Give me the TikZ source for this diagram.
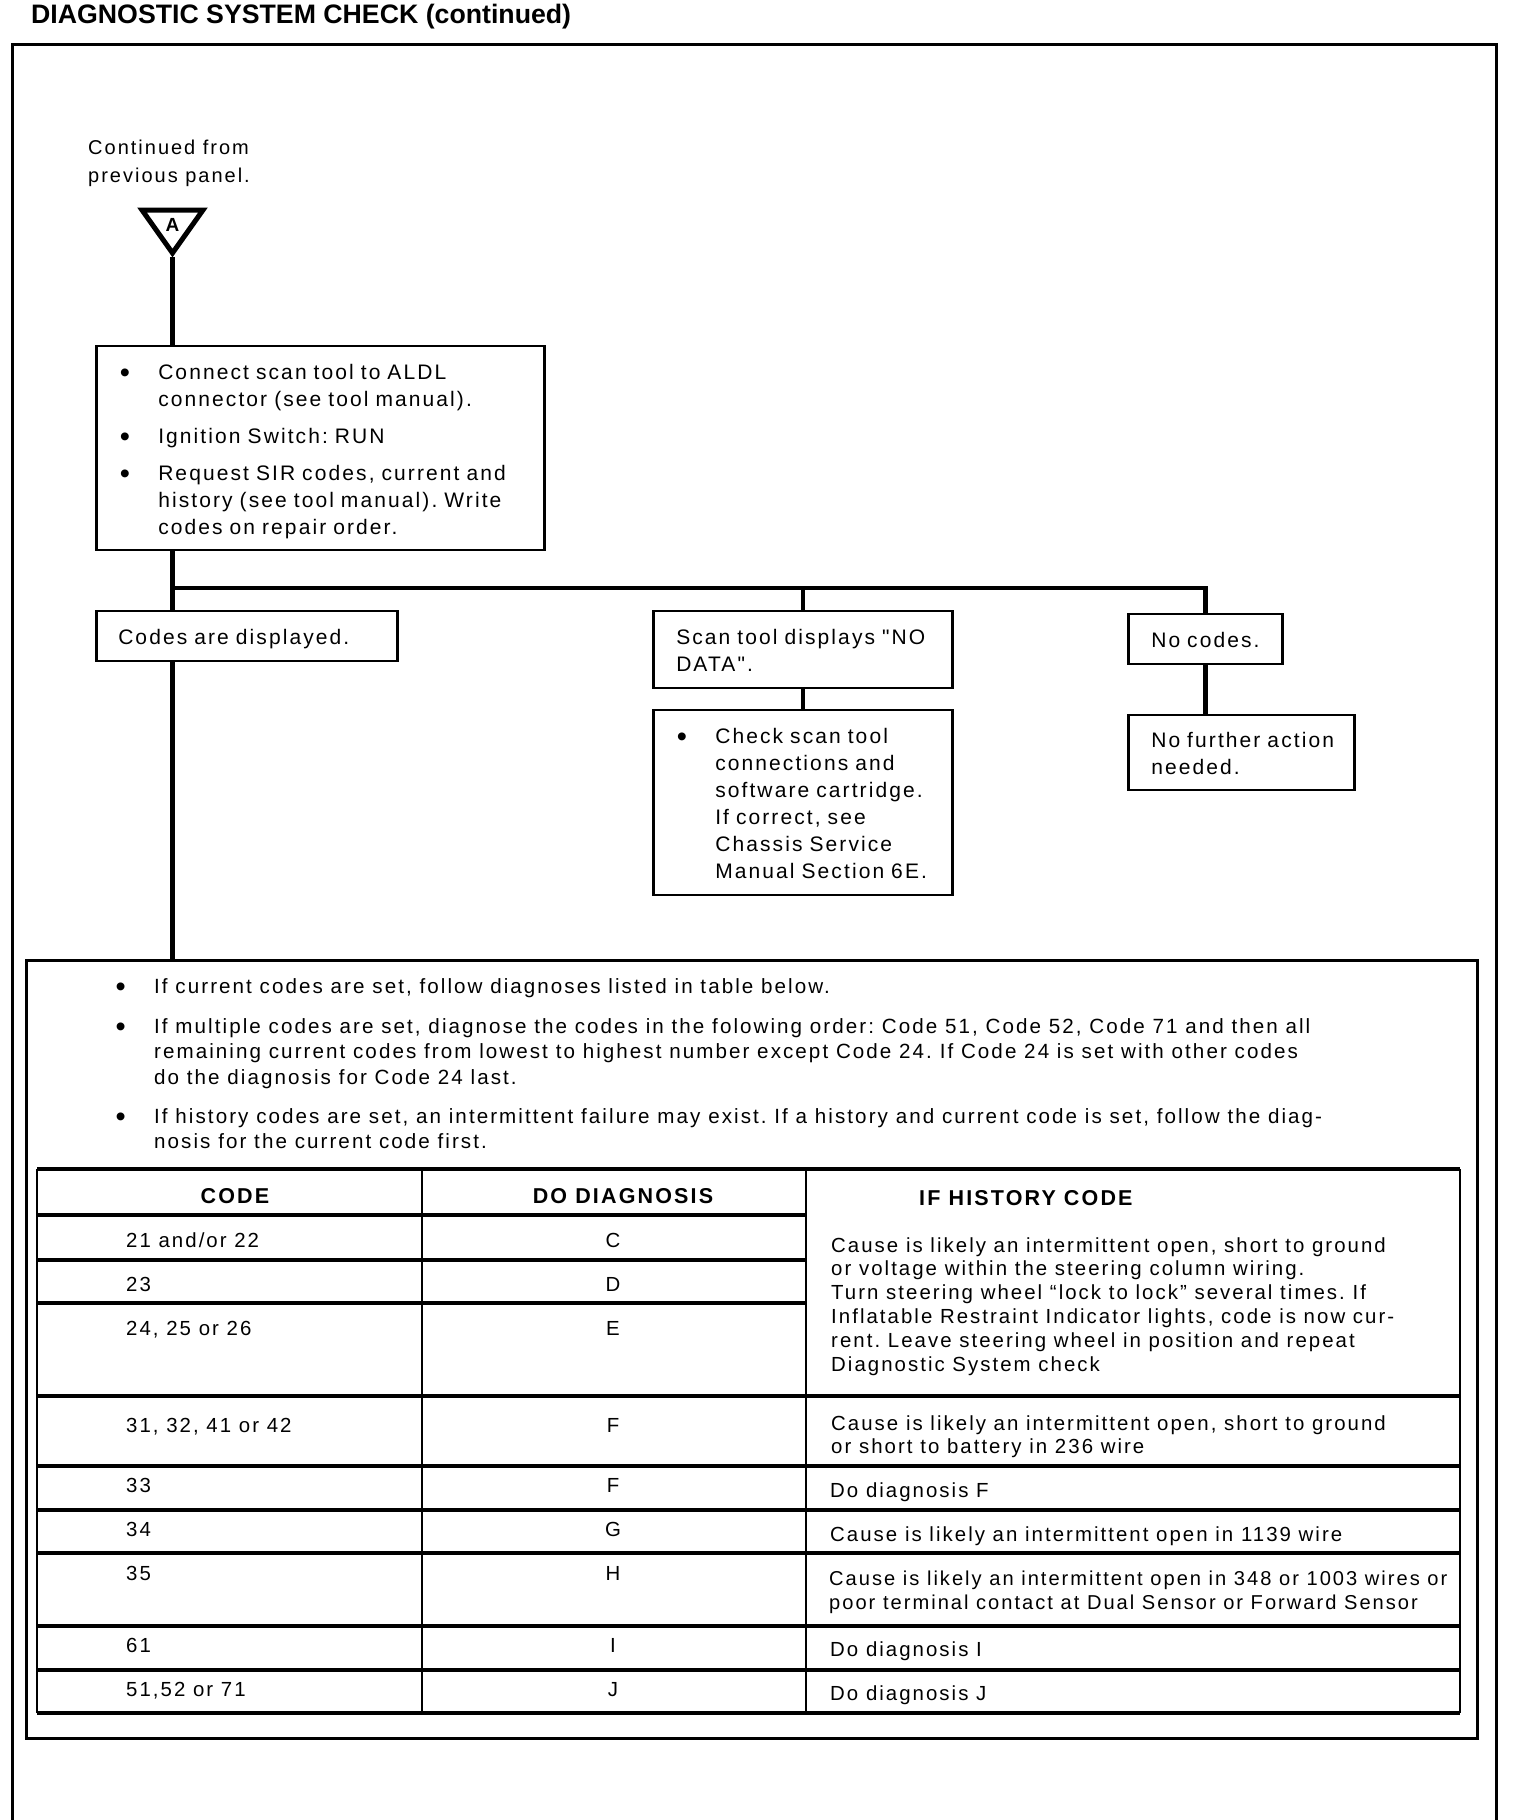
\documentclass[tikz,border=0pt]{standalone}
\usepackage{fontspec}
\usepackage{tikz}
\usetikzlibrary{positioning,calc}
\setmainfont{Liberation Sans}
\newfontfamily\manfont[LetterSpace=10]{Liberation Sans}
\newcommand\bodyfont{\manfont\frenchspacing\fontsize{21}{27}\selectfont}
\newcommand\rulefont{\manfont\frenchspacing\fontsize{20.6}{25.5}\selectfont}
\newcommand\tabfont{\manfont\frenchspacing\fontsize{20.4}{23.8}\selectfont}
\newcommand\blt{\makebox[33pt][l]{\hspace*{-5.5pt}\raisebox{-3pt}{\fontsize{29}{27}\selectfont\textbullet}}}
\newcommand\ind{\hspace*{33pt}}
\newcommand\topstrut{\rule{0pt}{\dimexpr0.7\baselineskip+7pt\relax}}

\begin{document}
\begin{tikzpicture}[x=1pt, y=-1pt,
    frame/.style={line width=3pt},
    panel/.style={draw, line width=2.5pt, anchor=west, inner ysep=0pt, align=left,
                  font=\bodyfont, execute at begin node=\topstrut, execute at end node=\strut},
    conn/.style={line width=4.5pt},
    txt/.style={inner sep=0pt, anchor=north west, align=left, execute at begin node=\strut},
    head/.style={inner sep=0pt, font=\manfont\bfseries\fontsize{21.5}{24}\selectfont},
    cell/.style={inner sep=0pt, anchor=base west, font=\tabfont},
    hline/.style={line width=3.5pt},
    vline/.style={line width=2pt}
]
\fill[white] (0,0) rectangle (1520,1820);
\useasboundingbox (0,0) rectangle (1520,1820);

\node[anchor=west, inner sep=0pt, font=\bfseries\fontsize{26.7}{30}\selectfont] (title) at (31,17) {DIAGNOSTIC SYSTEM CHECK (continued)};
\draw[frame] (12,1820) -- (12,44) -- (1496,44) -- (1496,1820);

\node[txt, font=\manfont\frenchspacing\fontsize{20}{28}\selectfont] (cont) at (88,139.6) {Continued from\\previous panel.};
\draw[line width=5pt] (142,210) -- (203,210) -- (172.5,253) -- cycle;
\coordinate (tip) at (172.5,257);
\node[font=\bfseries\fontsize{19}{20}\selectfont] (panA) at (172.5,225) {A};

\node[panel, inner xsep=29pt, text width=390pt, minimum height=204pt] (cmd) at (95,448)
  {\blt Connect scan tool to ALDL\\
   \ind connector (see tool manual).\\[10pt]
   \blt Ignition Switch: RUN\\[10pt]
   \blt Request SIR codes, current and\\
   \ind history~(see~tool~manual).~Write\\
   \ind codes on repair order.};
\coordinate (bus) at (172.5,588);

\node[panel, inner xsep=22pt, text width=257pt, minimum height=50pt] (codes) at (95,636) {Codes are displayed.};
\node[panel, inner xsep=23pt, text width=253pt, minimum height=77pt] (nodata) at (652,649.5) {Scan~tool~displays~"NO\\DATA".};
\node[panel, inner xsep=29pt, text width=241pt, minimum height=185pt] (check) at (652,802.5)
  {\blt Check scan tool\\
   \ind connections and\\
   \ind software~cartridge.\\
   \ind If correct, see\\
   \ind Chassis Service\\
   \ind Manual~Section~6E.};
\node[panel, inner xsep=23pt, text width=108pt, minimum height=50pt] (nocodes) at (1127,639) {No~codes.};
\node[panel, inner xsep=23pt, text width=180pt, minimum height=75pt] (nofurther) at (1127,752.5) {No~further~action\\needed.};

\node[draw, line width=3pt, minimum width=1451pt, minimum height=778pt] (notes) at (751.5,1349) {};

\draw[conn] (tip) -- (tip |- cmd.north);
\draw[conn] (tip |- cmd.south) -- (tip |- codes.north);
\draw[conn] (bus) -| (nocodes.north);
\draw[conn] (bus -| nodata.north) -- (nodata.north);
\draw[conn] (nodata.south) -- (check.north);
\draw[conn] (nocodes.south) -- (nocodes.south |- nofurther.north);
\draw[conn] (tip |- codes.south) -- (tip |- notes.north);

\node[txt, font=\rulefont] (rules) at (121,978)
  {\blt If current codes are set, follow diagnoses listed in table below.\\[14.5pt]
   \blt If multiple codes are set, diagnose the codes in the folowing order: Code 51, Code 52, Code 71 and then all\\
   \ind remaining current codes from lowest to highest number except Code 24. If Code 24 is set with other codes\\
   \ind do the diagnosis for Code 24 last.\\[13.5pt]
   \blt If history codes are set, an intermittent failure may exist. If a history and current code is set, follow the diag-\\
   \ind nosis for the current code first.};

\foreach \x in {37,422,806,1460} \draw[vline] (\x,1169) -- (\x,1713);
\foreach \y in {1215,1260,1303} \draw[hline] (37,\y) -- (806,\y);
\foreach \y in {1169,1396,1466,1510,1553,1626,1670,1713} \draw[hline] (37,\y) -- (1460,\y);

\node[head] (hcode) at (235,1196) {CODE};
\node[head] (hdiag) at (623,1196) {DO DIAGNOSIS};
\node[head, anchor=west] (hhist) at (919,1198) {IF HISTORY CODE};

\foreach \code/\dx/\yy [count=\i] in {{21 and/or 22}/C/1240, 23/D/1284, {24, 25 or 26}/E/1328,
    {31, 32, 41 or 42}/F/1425, 33/F/1485, 34/G/1529, 35/H/1573, 61/I/1645, {51,52 or 71}/J/1689} {
  \node[cell] (code\i) at (126,\yy+7) {\code};
  \node[cell, anchor=base] (diag\i) at (613,\yy+7) {\dx};
}

\node[txt, font=\tabfont] (hist1) at (831,1237)
  {Cause is likely an intermittent open, short to ground\\
   or voltage within the steering column wiring.\\
   Turn steering wheel “lock to lock” several times. If\\
   Inflatable Restraint Indicator lights, code is now cur-\\
   rent. Leave steering wheel in position and repeat\\
   Diagnostic System check};
\node[txt, font=\tabfont] (hist2) at (831,1415)
  {Cause is likely an intermittent open, short to ground\\or short to battery in 236 wire};
\node[txt, font=\tabfont] (hist3) at (830,1481) {Do diagnosis F};
\node[txt, font=\tabfont] (hist4) at (830,1525) {Cause is likely an intermittent open in 1139 wire};
\node[txt, font=\manfont\frenchspacing\fontsize{20.1}{23.8}\selectfont] (hist5) at (829,1571)
  {Cause is likely an intermittent open in 348 or 1003 wires or\\poor terminal contact at Dual Sensor or Forward Sensor};
\node[txt, font=\tabfont] (hist6) at (830,1640) {Do diagnosis I};
\node[txt, font=\tabfont] (hist7) at (830,1684) {Do diagnosis J};
\end{tikzpicture}
\end{document}
